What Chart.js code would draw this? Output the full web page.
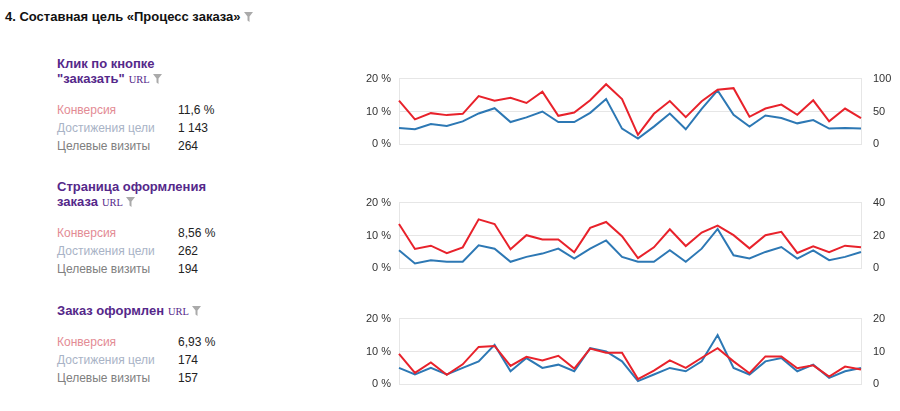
<!DOCTYPE html>
<html>
<head>
<meta charset="utf-8">
<script src="https://cdn.jsdelivr.net/npm/chart.js@4"></script>
<style>
    body { margin: 0; background: #fff; font-family: "Liberation Sans", Arial, sans-serif; }
    .page { position: relative; width: 900px; height: 411px; overflow: hidden; }
    .abs { position: absolute; white-space: nowrap; }
    .head { left: 5px; top: 9px; font-size: 13px; font-weight: bold; color: #111; }
    .gtitle { left: 57px; font-size: 13px; font-weight: bold; color: #55288a; line-height: 15px; }
    .url { font-family: "Liberation Serif", "DejaVu Serif", serif; font-size: 10.5px; font-weight: normal; color: #55288a; margin-left: 4px; }
    .funnel { display: inline-block; width: 9px; height: 10px; margin-left: 3px; vertical-align: -1px; }
    .lbl { left: 57px; font-size: 12px; line-height: 18px; }
    .val { left: 178px; font-size: 12px; line-height: 18px; color: #222; }
    .conv { color: #e38b94; }
    .reach { color: #a9b3c6; }
    .visits { color: #808080; }
    .chartbox { position: absolute; left: 360px; width: 540px; height: 103px; }
</style>
</head>
<body>
<div class="page">
    <div class="abs head">4. Составная цель «Процесс заказа»<svg class="funnel" viewBox="0 0 9 10"><path d="M0 0 H9 L5.5 4.5 V10 L3.5 8.5 V4.5 Z" fill="#aaa"/></svg></div>

    <div class="chartbox" style="top:60px"><canvas id="goal1"></canvas></div>
    <div class="chartbox" style="top:184px"><canvas id="goal2"></canvas></div>
    <div class="chartbox" style="top:300px"><canvas id="goal3"></canvas></div>

    <!-- цель 1 -->
    <div class="abs gtitle" style="top:56px">Клик по кнопке<br>"заказать"<span class="url">URL</span><svg class="funnel" viewBox="0 0 9 10"><path d="M0 0 H9 L5.5 4.5 V10 L3.5 8.5 V4.5 Z" fill="#aaa"/></svg></div>
    <div class="abs lbl" style="top:101px"><span class="conv">Конверсия</span><br><span class="reach">Достижения цели</span><br><span class="visits">Целевые визиты</span></div>
    <div class="abs val" style="top:101px">11,6 %<br>1 143<br>264</div>

    <!-- цель 2 -->
    <div class="abs gtitle" style="top:179px">Страница оформления<br>заказа<span class="url">URL</span><svg class="funnel" viewBox="0 0 9 10"><path d="M0 0 H9 L5.5 4.5 V10 L3.5 8.5 V4.5 Z" fill="#aaa"/></svg></div>
    <div class="abs lbl" style="top:224px"><span class="conv">Конверсия</span><br><span class="reach">Достижения цели</span><br><span class="visits">Целевые визиты</span></div>
    <div class="abs val" style="top:224px">8,56 %<br>262<br>194</div>

    <!-- цель 3 -->
    <div class="abs gtitle" style="top:303px">Заказ оформлен<span class="url">URL</span><svg class="funnel" viewBox="0 0 9 10"><path d="M0 0 H9 L5.5 4.5 V10 L3.5 8.5 V4.5 Z" fill="#aaa"/></svg></div>
    <div class="abs lbl" style="top:333px"><span class="conv">Конверсия</span><br><span class="reach">Достижения цели</span><br><span class="visits">Целевые визиты</span></div>
    <div class="abs val" style="top:333px">6,93 %<br>174<br>157</div>
</div>

<script>
    // 30 дней
    const days = [
        '01', '02', '03', '04', '05', '06', '07', '08', '09', '10',
        '11', '12', '13', '14', '15', '16', '17', '18', '19', '20',
        '21', '22', '23', '24', '25', '26', '27', '28', '29', '30'
    ];

    // конверсия, % (левая ось)
    const conv1 = [13.3, 7.6, 9.5, 8.9, 9.3, 14.7, 13.3, 14.2, 12.6, 16.0,
                   8.7, 9.7, 13.4, 18.3, 13.8, 2.9, 9.3, 13.2, 8.3, 13.1,
                   16.6, 17.1, 8.4, 10.9, 12.1, 9.0, 13.4, 7.0, 10.9, 8.0];
    const conv2 = [13.5, 5.9, 6.9, 4.6, 6.4, 14.9, 13.5, 5.8, 10.1, 8.8,
                   8.8, 4.9, 12.3, 14.1, 9.8, 3.1, 6.4, 11.9, 6.8, 10.9,
                   13.0, 10.1, 6.1, 10.1, 11.1, 4.7, 6.7, 4.9, 6.9, 6.4];
    const conv3 = [9.3, 3.5, 6.7, 2.9, 6.1, 11.4, 11.7, 5.6, 8.4, 7.3,
                   8.7, 4.8, 10.9, 9.6, 9.6, 1.6, 4.2, 7.3, 5.0, 8.1,
                   11.0, 7.0, 3.4, 8.5, 8.5, 4.9, 5.8, 2.4, 5.4, 4.5];

    // достижения цели (правая ось)
    const reach1 = [25, 23, 31, 28, 35, 47, 55, 34, 41, 50,
                    34, 34, 48, 69, 24, 9, 27, 47, 23, 54,
                    82, 45, 27, 44, 40, 32, 37, 24, 25, 24];
    const reach2 = [11, 3, 5, 4, 4, 14, 12, 4, 7, 9,
                    12, 6, 12, 17, 7, 4, 4, 11, 4, 12,
                    24, 8, 6, 10, 13, 6, 11, 5, 7, 10];
    const reach3 = [5, 3, 5, 3, 5, 7, 12, 4, 8, 5,
                    6, 4, 11, 10, 7, 1, 3, 5, 4, 7,
                    15, 5, 3, 7, 8, 4, 6, 2, 4, 5];

    const convMax = 20;
    const rightMax = [100, 40, 20];

    function createChart(canvasId, conv, reach, rMax) {
        const ctx = document.getElementById(canvasId).getContext('2d');
        const tickFont = { family: '"Liberation Sans", Arial, sans-serif', size: 11 };
        return new Chart(ctx, {
            type: 'line',
            data: {
                labels: days,
                datasets: [{
                    label: 'Конверсия',
                    data: conv,
                    yAxisID: 'y',
                    borderColor: '#e8222b',
                    borderWidth: 2,
                    pointRadius: 0,
                    tension: 0
                }, {
                    label: 'Достижения цели',
                    data: reach,
                    yAxisID: 'y1',
                    borderColor: '#2d78b4',
                    borderWidth: 2,
                    pointRadius: 0,
                    tension: 0
                }]
            },
            options: {
                responsive: true,
                maintainAspectRatio: false,
                animation: false,
                layout: { padding: 0 },
                plugins: {
                    legend: { display: false },
                    tooltip: { enabled: false }
                },
                scales: {
                    x: { display: false },
                    y: {
                        position: 'left',
                        min: 0,
                        max: convMax,
                        ticks: {
                            stepSize: 10,
                            color: '#333',
                            font: tickFont,
                            padding: 8,
                            callback: v => v + ' %'
                        },
                        grid: { color: '#e6e6e6', drawTicks: false },
                        border: { display: true, color: '#e6e6e6' },
                        afterFit: scale => { scale.width = 39; }
                    },
                    y1: {
                        position: 'right',
                        min: 0,
                        max: rMax,
                        ticks: {
                            stepSize: rMax / 2,
                            color: '#333',
                            font: tickFont,
                            padding: 12
                        },
                        grid: { display: false, drawTicks: false },
                        border: { display: true, color: '#e6e6e6' },
                        afterFit: scale => { scale.width = 39; }
                    }
                }
            }
        });
    }

    document.addEventListener('DOMContentLoaded', function () {
        createChart('goal1', conv1, reach1, rightMax[0]);
        createChart('goal2', conv2, reach2, rightMax[1]);
        createChart('goal3', conv3, reach3, rightMax[2]);
    });
</script>
</body>
</html>
